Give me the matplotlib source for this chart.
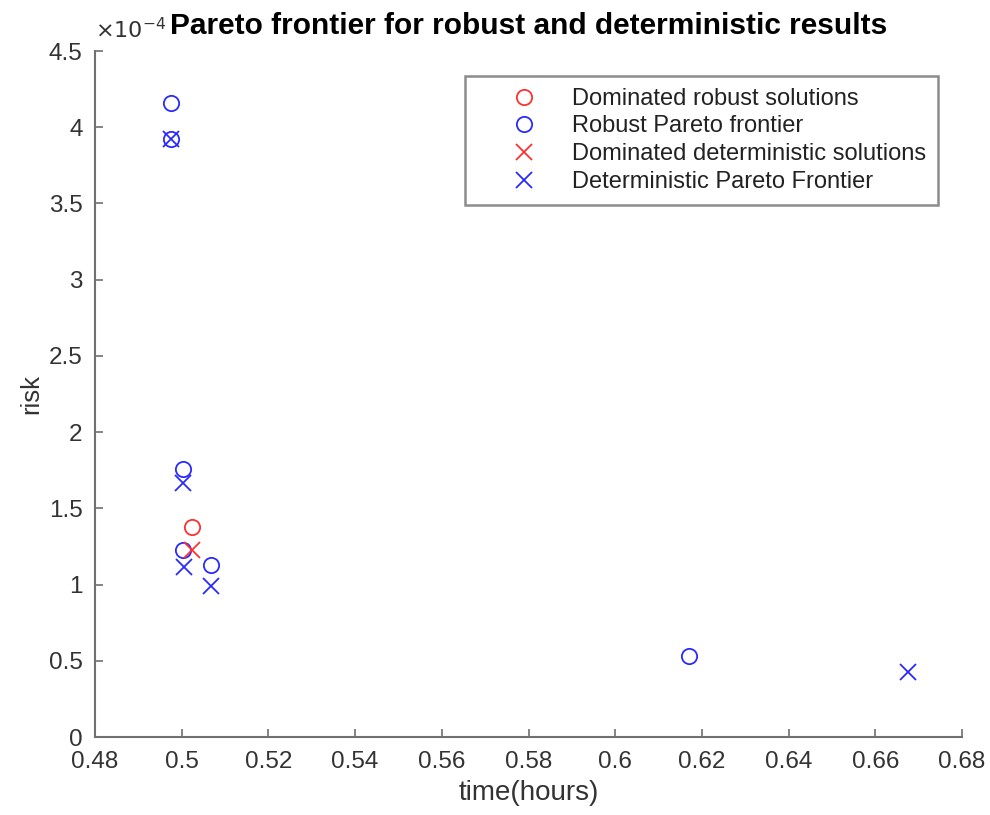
import numpy as np
import matplotlib
matplotlib.use('Agg')
import matplotlib.pyplot as plt
from matplotlib.ticker import FuncFormatter, MultipleLocator

plt.rcParams['font.family'] = ['Liberation Sans', 'DejaVu Sans']

# Robust results (time in hours, risk)
rob_dom_time = [0.5023]
rob_dom_risk = [1.376e-4]
rob_par_time = [0.4975, 0.4975, 0.5003, 0.5004, 0.5068, 0.6170]
rob_par_risk = [4.159e-4, 3.923e-4, 1.760e-4, 1.230e-4, 1.128e-4, 0.531e-4]

# Deterministic results
det_dom_time = [0.5023]
det_dom_risk = [1.227e-4]
det_par_time = [0.4975, 0.5004, 0.5006, 0.5068, 0.6675]
det_par_risk = [3.923e-4, 1.664e-4, 1.113e-4, 0.993e-4, 0.428e-4]

blue = '#2a2aff'
red = '#ff3030'

fig = plt.figure(figsize=(9.9, 8.15), dpi=100)
ax = fig.add_axes([0.096, 0.0957, 0.8757, 0.8417])

ms = 11
ax.plot(rob_dom_time, rob_dom_risk, 'o', mfc='none', mec=red, ms=ms, mew=1.3,
        label='Dominated robust solutions')
ax.plot(rob_par_time, rob_par_risk, 'o', mfc='none', mec=blue, ms=ms, mew=1.3,
        label='Robust Pareto frontier')
ax.plot(det_dom_time, det_dom_risk, 'x', color=red, ms=ms, mew=1.3,
        label='Dominated deterministic solutions')
ax.plot(det_par_time, det_par_risk, 'x', color=blue, ms=ms, mew=1.3,
        label='Deterministic Pareto Frontier')

ax.set_xlim(0.48, 0.68)
ax.set_ylim(0, 4.5e-4)
ax.xaxis.set_major_locator(MultipleLocator(0.02))
ax.yaxis.set_major_locator(MultipleLocator(0.5e-4))
ax.xaxis.set_major_formatter(FuncFormatter(lambda v, p: '%g' % round(v, 2)))
ax.yaxis.set_major_formatter(FuncFormatter(lambda v, p: '%g' % round(v / 1e-4, 2)))

for s in ['top', 'right']:
    ax.spines[s].set_visible(False)
for s in ['left', 'bottom']:
    ax.spines[s].set_color('#707070')
    ax.spines[s].set_linewidth(1.5)
ax.tick_params(direction='in', length=6, width=1.2, color='#707070',
               labelsize=17.5, labelcolor='#333333')
ax.tick_params(axis='x', pad=10)
ax.tick_params(axis='y', pad=9)

ax.set_xlabel('time(hours)', fontsize=20, color='#333333', labelpad=5)
ax.set_ylabel('risk', fontsize=18.5, color='#333333', labelpad=4)
ax.set_title('Pareto frontier for robust and deterministic results',
             fontsize=21.5, fontweight='bold', pad=12)

ax.text(0.0, 1.012, r'$\times 10^{-4}$', transform=ax.transAxes,
        fontsize=16, color='#333333', ha='left', va='bottom')

leg = ax.legend(loc='upper right', bbox_to_anchor=(0.9723, 0.9636), fontsize=17,
                frameon=True, fancybox=False, borderpad=0.5, handletextpad=0.05,
                labelspacing=0.24, borderaxespad=0, handlelength=4.0)
leg.get_frame().set_edgecolor('#707070')
leg.get_frame().set_linewidth(1.8)
for t in leg.get_texts():
    t.set_color('#222222')

fig.savefig('out.png', dpi=100)
